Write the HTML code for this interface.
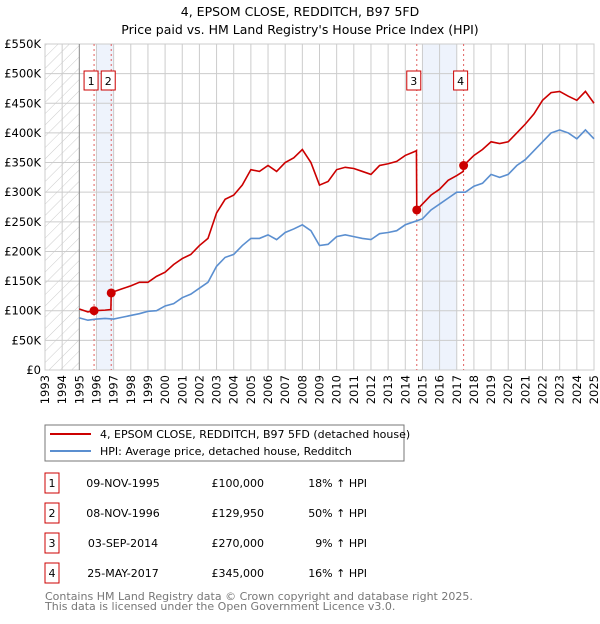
<!DOCTYPE html>
<html><head><meta charset="utf-8"><style>
body{margin:0;background:#fff;font-family:"DejaVu Sans","Liberation Sans",sans-serif;}
svg text{font-family:"DejaVu Sans","Liberation Sans",sans-serif;}
</style></head><body>
<svg id="c" width="600" height="620" viewBox="0 0 600 620" xmlns="http://www.w3.org/2000/svg">
<defs><pattern id="h" width="8" height="8" patternUnits="userSpaceOnUse" patternTransform="rotate(45)"><line x1="0" y1="0" x2="0" y2="8" stroke="#ccc" stroke-width="1"/></pattern></defs>
<text x="300" y="16" text-anchor="middle" font-size="12.5">4, EPSOM CLOSE, REDDITCH, B97 5FD</text>
<text x="300" y="34" text-anchor="middle" font-size="12.5">Price paid vs. HM Land Registry's House Price Index (HPI)</text>
<g id="grid"></g><g id="marks"></g><g id="axes"></g>
<rect x="45" y="425" width="359" height="36" fill="#fff" stroke="#777"/>
<line x1="50" y1="434" x2="91" y2="434" stroke="#cc0000" stroke-width="2"/>
<text x="100" y="438" font-size="11">4, EPSOM CLOSE, REDDITCH, B97 5FD (detached house)</text>
<line x1="50" y1="451" x2="91" y2="451" stroke="#5b8fd0" stroke-width="2"/>
<text x="100" y="455" font-size="11">HPI: Average price, detached house, Redditch</text>
<g id="table" font-size="11"></g>
<text x="45" y="600" font-size="11" fill="#777">Contains HM Land Registry data © Crown copyright and database right 2025.</text>
<text x="45" y="610" font-size="11" fill="#777">This data is licensed under the Open Government Licence v3.0.</text>
</svg>
<script>
const hpiYears=[1995,1995.5,1996,1996.5,1997,1997.5,1998,1998.5,1999,1999.5,2000,2000.5,2001,2001.5,2002,2002.5,2003,2003.5,2004,2004.5,2005,2005.5,2006,2006.5,2007,2007.5,2008,2008.5,2009,2009.5,2010,2010.5,2011,2011.5,2012,2012.5,2013,2013.5,2014,2014.5,2015,2015.5,2016,2016.5,2017,2017.5,2018,2018.5,2019,2019.5,2020,2020.5,2021,2021.5,2022,2022.5,2023,2023.5,2024,2024.5,2025];
const hpiValues=[88,84,86,87,86,89,92,95,99,100,108,112,122,128,138,148,175,190,195,210,222,222,228,220,232,238,245,235,210,212,225,228,225,222,220,230,232,235,245,250,255,270,280,290,300,300,310,315,330,325,330,345,355,370,385,400,405,400,390,405,390];
const priceYears=[1995,1995.5,1995.86,1996.5,1996.84,1996.86,1997,1997.5,1998,1998.5,1999,1999.5,2000,2000.5,2001,2001.5,2002,2002.5,2003,2003.5,2004,2004.5,2005,2005.5,2006,2006.5,2007,2007.5,2008,2008.5,2009,2009.5,2010,2010.5,2011,2011.5,2012,2012.5,2013,2013.5,2014,2014.5,2014.65,2014.67,2015,2015.5,2016,2016.5,2017,2017.38,2017.4,2018,2018.5,2019,2019.5,2020,2020.5,2021,2021.5,2022,2022.5,2023,2023.5,2024,2024.5,2025];
const priceValues=[103,98,100,101,102,130,132,137,142,148,148,158,165,178,188,195,210,222,265,288,295,312,338,335,345,335,350,358,372,350,312,318,338,342,340,335,330,345,348,352,362,368,370,270,280,295,305,320,328,335,345,362,372,385,382,385,400,415,432,455,468,470,462,455,470,450];
const saleYears=[1995.86,1996.86,2014.67,2017.4];
const salePrices=[100,129.95,270,345];
const saleLabels=["1","2","3","4"];
const saleDates=["09-NOV-1995","08-NOV-1996","03-SEP-2014","25-MAY-2017"];
const salePriceText=["£100,000","£129,950","£270,000","£345,000"];
const saleHpiText=["18% ↑ HPI","50% ↑ HPI","9% ↑ HPI","16% ↑ HPI"];
const shadeRanges=[[1996,1997],[2015,2017]];
const yTicks=[0,50,100,150,200,250,300,350,400,450,500,550];
const yTickLabels=["£0","£50K","£100K","£150K","£200K","£250K","£300K","£350K","£400K","£450K","£500K","£550K"];
const xTicks=[];for(let y=1993;y<=2025;y++)xTicks.push(y);

const L=45,R=594,T=44,B=370;
const x=v=>L+(v-1993)*(R-L)/32;
const y=v=>B-v*(B-T)/550;
const NS="http://www.w3.org/2000/svg";
function mk(p,tag,a){const e=document.createElementNS(NS,tag);for(const k in a)e.setAttribute(k,a[k]);p.appendChild(e);return e;}
const grid=document.getElementById('grid'),marks=document.getElementById('marks'),axes=document.getElementById('axes'),table=document.getElementById('table');
let r=mk(grid,'rect',{x:L,y:T,width:R-L,height:B-T,fill:'#fff',stroke:'#ccc'});


shadeRanges.forEach((s,i)=>{const e=mk(grid,'rect',{x:x(s[0]),y:T,width:x(s[1])-x(s[0]),height:B-T,fill:'#eef3fc'});

});
const hat=mk(grid,'rect',{x:L,y:T,width:x(1995)-L,height:B-T,fill:'url(#h)'});


yTicks.forEach((t,i)=>{const g=mk(grid,'line',{x1:L,x2:R,y1:y(t),y2:y(t),stroke:'#ccc'});


const tx=mk(axes,'text',{x:L-4,y:y(t)+4,'text-anchor':'end','font-size':'11.5'});tx.textContent=yTickLabels[i];

});
xTicks.forEach(t=>{const g=mk(grid,'line',{x1:x(t),x2:x(t),y1:T,y2:B,stroke:t==1995?'#888':'#ccc'});


const tx=mk(axes,'text',{x:0,y:0,'text-anchor':'end','font-size':'11.5',transform:`translate(${x(t)+4},${B+5}) rotate(-90)`});tx.textContent=t;

});
saleYears.forEach((s,i)=>{const l=mk(marks,'line',{x1:x(s),x2:x(s),y1:T,y2:B,stroke:'#e06060','stroke-dasharray':'2,3'});


const bx=mk(marks,'rect',{x:x(s)-10,y:71,width:14,height:19,fill:'#fff',stroke:'#cc0000'});


const t=mk(marks,'text',{x:x(s)-3,y:85,'text-anchor':'middle','font-size':'11'});t.textContent=saleLabels[i];

});
const hp=mk(marks,'polyline',{points:hpiYears.map((v,i)=>x(v)+','+y(hpiValues[i])).join(' '),fill:'none',stroke:'#5b8fd0','stroke-width':1.6});


const pp=mk(marks,'polyline',{points:priceYears.map((v,i)=>x(v)+','+y(priceValues[i])).join(' '),fill:'none',stroke:'#cc0000','stroke-width':1.6});


saleYears.forEach((s,i)=>{const c=mk(marks,'circle',{cx:x(s),cy:y(salePrices[i]),r:4.5,fill:'#cc0000'});


const ry=483+i*30;
const b=mk(table,'rect',{x:45,y:ry-10,width:14,height:20,fill:'#fff',stroke:'#cc0000'});


const a=mk(table,'text',{x:52,y:ry+4,'text-anchor':'middle'});a.textContent=saleLabels[i];


const d=mk(table,'text',{x:123,y:ry+4,'text-anchor':'middle'});d.textContent=saleDates[i];


const p=mk(table,'text',{x:264,y:ry+4,'text-anchor':'end'});p.textContent=salePriceText[i];


const h=mk(table,'text',{x:367,y:ry+4,'text-anchor':'end'});h.textContent=saleHpiText[i];

});
</script>
</body></html>
